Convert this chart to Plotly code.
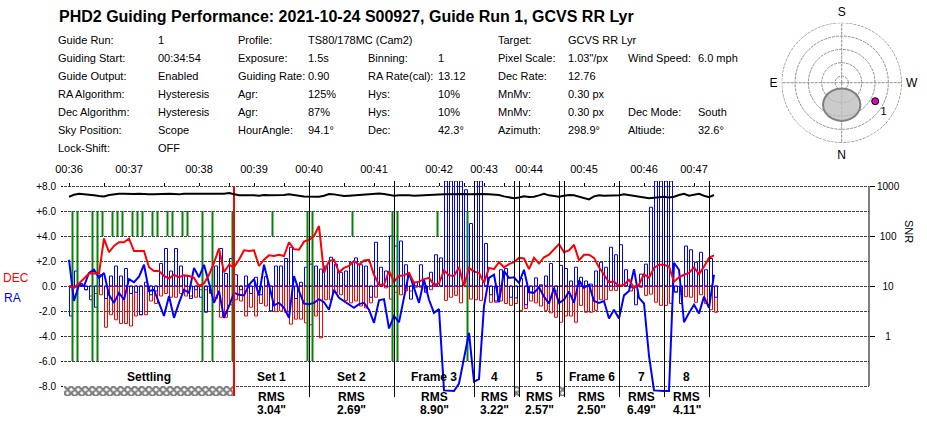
import plotly.graph_objects as go

W, H = 927, 423
# pixel box of the plot: bars and lines run a bit past the +8/-8 grid lines
PLOT_L, PLOT_R = 64, 869
Y_PLUS8, Y_MINUS8 = 186, 386
Y_TOP_VAL, Y_BOT_VAL = 8.4, -8.9
PX_PER_UNIT = (Y_MINUS8 - Y_PLUS8) / 16.0

title = "PHD2 Guiding Performance: 2021-10-24 S00927, Guide Run 1, GCVS RR Lyr"

# header table: x pixel column -> rows
info_cols = {
    58: ["Guide Run:", "Guiding Start:", "Guide Output:", "RA Algorithm:", "Dec Algorithm:", "Sky Position:", "Lock-Shift:"],
    158: ["1", "00:34:54", "Enabled", "Hysteresis", "Hysteresis", "Scope", "OFF"],
    238: ["Profile:", "Exposure:", "Guiding Rate:", "Agr:", "Agr:", "HourAngle:", ""],
    308: ["TS80/178MC (Cam2)", "1.5s", "0.90", "125%", "87%", "94.1°", ""],
    368: ["", "Binning:", "RA Rate(cal):", "Hys:", "Hys:", "Dec:", ""],
    438: ["", "1", "13.12", "10%", "10%", "42.3°", ""],
    498: ["Target:", "Pixel Scale:", "Dec Rate:", "MnMv:", "MnMv:", "Azimuth:", ""],
    568: ["GCVS RR Lyr", '1.03"/px', "12.76", "0.30 px", "0.30 px", "298.9°", ""],
    628: ["", "Wind Speed:", "", "", "Dec Mode:", "Altiude:", ""],
    698: ["", "6.0 mph", "", "", "South", "32.6°", ""],
}

dec_line = [0, -0.15, 0.2, 0.6, 1.0, 1.0, 1.0, 3.8, 2.7, 3.2, 3.5, 3.5, 3.8, 2.8, 2.8, 2.8, 1.5, 1.2, 1.2, 0.8,
            0.6, 0.9, 0.7, 0.85, 0.8, 0.65, 0, 0.2, 0.9, 1.85, 3.0, 1.1, 1.7, 1.5, 2.1, 2.85, 2.8, 2.85, 1.6, 2.1,
            2.45, 2.4, 2.5, 2.4, 3.5, 2.95, 2.9, 3.55, 3.7, 4.0, 4.8, 1.05, 2.0, 2.1, 1.1, 1.45, 1.6, 2.0, 1.7, 2.05,
            2.1, 0.9, 0.1, 0.1, 1.2, 0.35, 0.8, 0.85, 1.05, 0.25, 0.35, 0.55, 0.65, 0.1, 0.2, 1.25, 0.85, 0.8, 1.5, 0,
            1.45, 1.15, 1.05, 0.25, 1.45, 1.35, 1.9, 1.5, 1.75, 1.9, 2.25, 2.2, 1.35, 2.25, 1.8, 2.3, 2.5, 2.9, 3.35, 2.7,
            2.85, 3.3, 2.05, 2.5, 2.5, 2.25, 1.5, 0.9, 0.3, 0.35, 0, 0.1, 0.5, -0.15, 0.1, 0.95, 0.65, 1.45, 1.7, 1.7,
            1.55, 0.35, 0.7, 0.9, 1.05, 1.5, 0.95, 1.55, 2.25, 2.45]

ra_line = [2.1, -1.2, 0.1, 0, 1.05, 1.3, 0.65, 1.05, -0.7, -1.35, -0.55, -1.1, 0.55, 0.3, 0.75, 1.7, -0.4, -0.3, -1.35, -2.4,
           -0.8, -2.55, -1.35, -0.3, -0.55, 1.45, 0.7, 1.7, 0.25, -1.35, -0.4, -2.55, -1.6, -0.55, -0.7, -0.75, 0.1, 0.55, -0.75, 1.7,
           0.1, -1.55, -1.35, -1.75, -2.55, 0.8, -0.4, -1.4, -1.45, -1.35, -1.05, -1.3, -1.9, -0.3, -0.95, -1.2, -1.5, -1.75, -1.45, -1.35,
           -1.9, -2.95, -1.15, -1.05, -3.4, -2.4, -2.9, -0.85, 1.05, -0.15, -1.35, 0.5, -1.1, -2.15, -1.85, -8.35, -8.4, -8.4, -7.8, -5.9,
           -3.75, -7.65, -7.45, -1.6, 0.65, 0.9, -1.3, 1.2, 0.65, 0.7, 0.25, 1.3, -0.5, -0.55, -0.1, -0.85, -1.4, -0.15, -1.35, -1.1,
           -0.45, -1.35, 0.45, -0.15, 0.1, -1.2, -1.35, -1.2, -2.6, -1.9, -2.6, -0.75, -0.4, 1.35, -0.95, -1.4, -5.6, -8.35, -8.4, -8.4,
           -8.4, 1.85, 1.3, -2.9, -2.15, -1.5, -2.2, -0.85, -1.75, 0.9]

ra_bars = [-2.4, 1.2, 0.2, -0.3, -1.1, -1.7, 0.9, -1.0, 0.8, 1.6, 0.8, 1.4, -0.6, -0.5, -2.3, 0.3, -0.7, -0.4, 1.8, 3.0,
           1.2, 3.0, 1.6, 0.8, -1.0, -0.3, -0.9, -2.1, -0.5, 1.6, 3.0, 1.0, 2.2, 0.9, -0.3, 0.8, -0.6, 0.7, -0.7, 0.75,
           -2.0, 1.6, 1.6, 2.2, 3.1, -1.0, 0.3, 1.5, 1.75, 1.6, 1.35, 1.6, 2.3, 1.75, 1.1, 1.2, 1.9, 2.25, 1.7, 1.6,
           -0.9, 3.5, 1.5, 1.2, 4.0, 3.2, 3.6, 1.7, -1.05, 0.3, 1.7, -0.5, 1.1, 2.5, 2.25, 8.4, 8.4, 8.4, 8.4, 7.7,
           5.0, 8.4, 8.4, 3.4, -0.7, -1.2, 1.3, 1.4, -0.9, -0.95, 0.6, -1.5, -0.5, 0.65, 0.1, 0.8, 1.8, -0.4, 1.65, 1.4,
           0.4, 1.5, 0.7, 0.4, 0.15, 1.2, 1.9, 1.5, 3.1, 2.5, 3.3, 1.3, -0.1, -1.5, 0.95, 1.75, 6.3, 8.4, 8.4, 8.4,
           8.4, -0.5, -1.4, 3.2, 2.9, 1.9, 2.7, 1.3, 2.2, -0.9]

dec_bars = [-0.1, -0.1, 0, -0.3, -0.8, -0.6, -0.7, -3.3, -2.3, -2.7, -3.0, -3.0, -3.2, -2.4, -2.3, -2.3, -1.2, -1.4, -0.8, -0.6,
            -0.9, -0.9, -0.6, -0.8, -0.8, -0.9, -0.3, -0.3, -0.6, -1.0, -2.5, -2.5, -1.5, -1.1, -1.2, -2.4, -1.7, -2.4, -1.4, -1.6,
            -2.0, -2.05, -2.0, -2.1, -3.05, -2.65, -2.65, -2.95, -3.1, -2.4, -4.15, -1.1, -1.1, -0.55, -0.7, -1.15, -1.35, -1.2, -1.6, -1.75,
            -1.35, -0.9, 0, -0.15, -1.05, -0.5, -0.7, -0.4, -0.4, -0.1, -0.1, -0.4, -0.3, 0, 0, -1.15, -0.9, -0.75, -1.35, -0.05,
            -1.05, -1.1, -1.15, 0, -1.3, -1.3, -1.2, -1.4, -1.55, -1.4, -1.95, -1.8, -1.2, -1.35, -1.6, -1.95, -2.15, -2.5, -2.9, -2.4,
            -2.4, -2.9, -1.55, -2.1, -2.1, -1.95, -1.1, -1.1, -0.35, -0.35, 0, 0, -0.4, 0, -0.1, -0.75, -0.65, -1.3, -1.55, -1.55,
            -1.4, -0.45, -0.65, -0.85, -0.9, -1.3, -0.7, -1.4, -1.9, -2.1]

snr = [610, 670, 700, 690, 680, 650, 630, 620, 660, 690, 700, 700, 690, 690, 700, 680, 680, 680, 690, 700,
       700, 690, 680, 700, 700, 690, 690, 680, 690, 700, 690, 700, 720, 690, 650, 650, 660, 650, 640, 660,
       650, 650, 640, 660, 680, 670, 640, 620, 615, 605, 610, 640, 690, 680, 650, 630, 640, 650, 660, 680,
       690, 700, 705, 690, 660, 640, 650, 660, 650, 640, 650, 660, 670, 680, 690, 680, 680, 690, 700, 690,
       680, 690, 700, 690, 680, 670, 660, 620, 590, 570, 590, 620, 600, 610, 650, 700, 650, 620, 610, 640,
       660, 650, 610, 590, 540, 620, 650, 640, 640, 650, 650, 680, 660, 640, 620, 590, 570, 585, 600, 610,
       590, 610, 660, 700, 640, 660, 700, 640, 600, 660]

# dropped frames: green from +6 to -6, star lost: +6 to +4
green_long = [0, 1, 4, 5, 26, 28, 32, 47, 48, 64, 65, 79]
green_short = [6, 8, 9, 10, 12, 13, 14, 16, 17, 19, 20, 22, 23, 40, 56, 73]

tick_idx = [0, 7, 12, 19, 26, 32, 37, 43, 48, 55, 61, 68, 74, 79, 83, 87, 92, 98, 103, 109, 115, 120, 125]
tick_text = ["00:36", "", "00:37", "", "00:38", "", "00:39", "", "00:40", "", "00:41", "", "00:42", "", "00:43", "",
             "00:44", "", "00:45", "", "00:46", "", "00:47"]

# sections: name, first sample, last sample, rms
sections = [("Set 1", 33, 48, '3.04"'), ("Set 2", 48, 65, '2.69"'), ("Frame 3", 65, 81, '8.90"'),
            ("4", 81, 89, '3.22"'), ("5", 90, 98, '2.57"'), ("Frame 6", 99, 110, '2.50"'),
            ("7", 110, 119, '6.49"'), ("8", 119, 128, '4.11"')]
settle_end = 33
gaps = [(89, 90), (98, 99)]

# sky map
target_az, target_zen = 298.9, 90 - 32.6
mask_az = [319.6, 310.6, 310.4, 360, 49.6, 49.4, 40.4, 28.3, 14.5, 0, 345.5, 331.7, 319.6]
mask_zen = [43.3, 32.0, 18.4, 8.7, 18.4, 32.0, 43.3, 51.3, 55.8, 57.3, 55.8, 51.3, 43.3]

FONT = "Liberation Sans"


def px(x):
    return x / W


def py(y):
    return 1 - y / H


def note(text, x, y, size=11, color="black", xref="paper", **kw):
    xx = px(x) if xref == "paper" else x
    return dict(text=text, x=xx, y=py(y), xref=xref, yref="paper", yanchor="middle", showarrow=False,
                font=dict(size=size, color=color), **kw)


fig = go.Figure()
n = len(dec_line)
samples = list(range(n))

# hatched strip under the settling part and the small gaps
hatch_x = [(-1 + settle_end) / 2] + [(a + b) / 2 for a, b in gaps]
hatch_w = [settle_end + 1] + [b - a for a, b in gaps]
fig.add_trace(go.Bar(x=hatch_x, y=[-0.8] * len(hatch_x), base=-8, width=hatch_w,
                     marker=dict(color="white", line=dict(color="#333333", width=0),
                                 pattern=dict(shape="x", size=5, solidity=0.7, fgcolor="black", bgcolor="white"))))

# green bands
gx, gy = [], []
for i in green_long:
    gx += [i + 0.7, i + 0.7, None]
    gy += [6, -6, None]
for i in green_short:
    gx += [i + 0.7, i + 0.7, None]
    gy += [6, 4, None]
fig.add_trace(go.Scatter(x=gx, y=gy, mode="lines", line=dict(color="#0a800a", width=2)))

fig.add_trace(go.Bar(x=samples, y=dec_bars, width=0.6, offset=0.1,
                     marker=dict(color="rgba(0,0,0,0)", line=dict(color="#ff0000", width=1))))
fig.add_trace(go.Bar(x=samples, y=ra_bars, width=0.6, offset=0.1,
                     marker=dict(color="rgba(0,0,0,0)", line=dict(color="#0000ff", width=1))))

fig.add_trace(go.Scatter(x=samples, y=snr, mode="lines", yaxis="y2", line=dict(color="black", width=2)))
fig.add_trace(go.Scatter(x=samples, y=ra_line, mode="lines", line=dict(color="#0000ff", width=2)))
fig.add_trace(go.Scatter(x=samples, y=dec_line, mode="lines", line=dict(color="#ff0000", width=2)))

# section separators
sx, sy = [], []
for s in sorted({v for sec in sections for v in sec[1:3]} - {settle_end}):
    sx += [s + 0.1, s + 0.1, None]
    sy += [Y_TOP_VAL, Y_BOT_VAL, None]
fig.add_trace(go.Scatter(x=sx, y=sy, mode="lines", line=dict(color="black", width=1)))
fig.add_trace(go.Scatter(x=[settle_end, settle_end], y=[8, -8.8], mode="lines", line=dict(color="#ff0000", width=2)))

# sky map: the grid ring at the edge does not get drawn by the axis, so add it
ring_az = list(range(0, 361, 5))
fig.add_trace(go.Scatterpolar(theta=ring_az, r=[90] * len(ring_az), mode="lines", subplot="polar",
                              line=dict(color="#909090", width=1, dash="3px,1px")))
fig.add_trace(go.Scatterpolar(theta=mask_az, r=mask_zen, mode="lines", fill="toself", fillcolor="rgba(190,190,190,0.8)",
                              line=dict(color="#808080", width=2, shape="spline"), subplot="polar"))
fig.add_trace(go.Scatterpolar(theta=[target_az], r=[target_zen], mode="markers+text", text=["1"],
                              textposition="bottom right", textfont=dict(family=FONT, size=11, color="black"),
                              marker=dict(color="#e000c0", size=7, line=dict(color="black", width=1)), subplot="polar"))

notes = [note("<b>%s</b>" % title, 59, 17, size=16, xanchor="left", xshift=-2)]
for col, rows in info_cols.items():
    for r, txt in enumerate(rows):
        if txt:
            notes.append(note(txt, col, 40 + 18 * r, xanchor="left", xshift=-2))

notes.append(note("<b>Settling</b>", (-1 + settle_end) / 2, 377, size=12, xref="x", xanchor="center"))
for name, a, b, rms in sections:
    notes.append(note("<b>%s</b>" % name, (a + b) / 2, 377, size=12, xref="x", xanchor="center"))
    notes.append(note("<b>RMS</b>", (a + b) / 2, 397, size=12, xref="x", xanchor="center"))
    notes.append(note("<b>%s</b>" % rms, (a + b) / 2, 409.5, size=12, xref="x", xanchor="center"))
notes.append(note("DEC", 16, 278, size=12, color="#ff0000", xanchor="center"))
notes.append(note("RA", 12, 298, size=12, color="#0000ff", xanchor="center"))
notes.append(note("SNR", 909, 231, size=11, textangle=90, xanchor="center"))

fig.update_layout(
    width=W, height=H, margin=dict(l=0, r=0, t=0, b=0), showlegend=False, barmode="overlay",
    paper_bgcolor="white", plot_bgcolor="white", font=dict(family=FONT, color="black"), annotations=notes,
    xaxis=dict(domain=[px(PLOT_L), px(PLOT_R)], range=[-1, 160], side="top", anchor="free", position=py(Y_PLUS8),
               tickvals=tick_idx, ticktext=tick_text, ticks="outside", ticklen=3, tickcolor="black",
               tickfont=dict(size=11), ticklabelstandoff=6, showgrid=False, zeroline=False, automargin=False),
    yaxis=dict(domain=[py(Y_MINUS8 - Y_BOT_VAL * PX_PER_UNIT - 8 * PX_PER_UNIT), py(Y_PLUS8 - (Y_TOP_VAL - 8) * PX_PER_UNIT)],
               range=[Y_BOT_VAL, Y_TOP_VAL], tickvals=list(range(-8, 9, 2)),
               ticktext=["-8.0", "-6.0", "-4.0", "-2.0", "0.0", "+2.0", "+4.0", "+6.0", "+8.0"],
               ticks="outside", ticklen=2, tickcolor="black", tickfont=dict(size=10), ticklabelstandoff=3, showgrid=True,
               gridcolor="#444444", griddash="3px,1px", gridwidth=1, zeroline=False, automargin=False),
    # 1000 sits on +8, 100 on +4, 10 on 0; labels are centred in the original, hence the padding
    yaxis2=dict(overlaying="y", side="right", type="log", range=[1 + Y_BOT_VAL / 4, 1 + Y_TOP_VAL / 4],
                tickvals=[1, 10, 100, 1000], ticktext=["\u2007\u20081", "\u200710", "\u2008100", "1000"],
                ticks="outside", ticklen=5, tickcolor="black", tickfont=dict(size=10), showgrid=False,
                zeroline=False, automargin=False),
    shapes=[dict(type="line", xref="paper", yref="y", x0=px(PLOT_R), x1=px(PLOT_R), y0=-8, y1=8,
                 line=dict(color="black", width=1))],
    polar=dict(domain=dict(x=[px(781.4), px(902)], y=[py(143), py(22.4)]), bgcolor="rgba(0,0,0,0)",
               radialaxis=dict(range=[0, 90.5], tickvals=[10, 30, 50, 70, 90], showticklabels=False, ticks="",
                               showline=False, gridcolor="#909090", griddash="3px,1px"),
               angularaxis=dict(rotation=270, direction="clockwise", tickvals=[0, 90, 180, 270],
                                ticktext=["N", "E", "S", "W"], ticks="outside", ticklen=1, tickcolor="rgba(0,0,0,0)",
                                showline=False, gridcolor="#909090", griddash="3px,1px", tickfont=dict(size=12))),
)

fig.write_html("out.html", config=dict(displayModeBar=False), post_script="document.body.style.margin='0';")
